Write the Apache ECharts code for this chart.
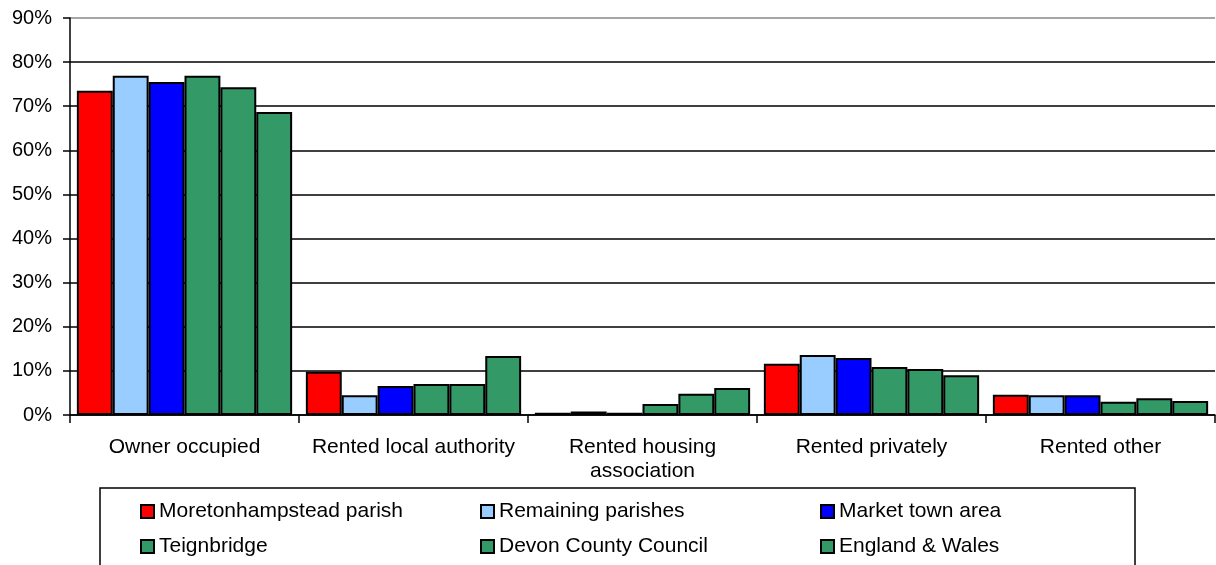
<!DOCTYPE html>
<html>
<head>
<meta charset="utf-8">
<script src="https://cdn.jsdelivr.net/npm/echarts@6/dist/echarts.min.js"></script>
<style>
  html, body { margin: 0; padding: 0; background: #fff; }
  #chart { width: 1216px; height: 565px; }
</style>
</head>
<body>
<div id="chart"></div>
<script>
// tenure categories
const categories = ['Owner occupied', 'Rented local authority', 'Rented housing\nassociation', 'Rented privately', 'Rented other'];

// percentages
const moretonhampstead = [73.5, 9.8, 0.5, 11.6, 4.6];
const remainingParishes = [76.9, 4.5, 0.8, 13.6, 4.5];
const marketTown = [75.5, 6.6, 0.5, 12.9, 4.5];
const teignbridge = [76.9, 7.0, 2.5, 10.9, 3.0];
const devon = [74.3, 7.0, 4.8, 10.4, 3.8];
const englandWales = [68.7, 13.4, 6.1, 9.0, 3.2];

const yTicks = [0, 10, 20, 30, 40, 50, 60, 70, 80, 90];

const seriesDefs = [
  ['Moretonhampstead parish', moretonhampstead, '#ff0000'],
  ['Remaining parishes', remainingParishes, '#99ccff'],
  ['Market town area', marketTown, '#0000ff'],
  ['Teignbridge', teignbridge, '#339966'],
  ['Devon County Council', devon, '#339966'],
  ['England & Wales', englandWales, '#339966'],
];

const font = 'Liberation Sans, Arial, sans-serif';

const chart = echarts.init(document.getElementById('chart'));
chart.setOption({
  animation: false,
  grid: { left: 70, right: 1, top: 18, bottom: 150 },
  xAxis: {
    type: 'category',
    data: categories,
    axisLine: { lineStyle: { color: '#000', width: 1.5 } },
    axisTick: { show: true, alignWithLabel: false, length: 8, lineStyle: { color: '#000', width: 1.5 } },
    axisLabel: { color: '#000', fontSize: 21, fontFamily: font, margin: 20, lineHeight: 24, interval: 0 },
  },
  yAxis: {
    type: 'value',
    min: yTicks[0],
    max: yTicks[yTicks.length - 1],
    interval: 10,
    axisLine: { show: true, lineStyle: { color: '#000', width: 1.5 } },
    axisTick: { show: true, length: 7, lineStyle: { color: '#000', width: 1.5 } },
    axisLabel: { color: '#000', fontSize: 20, fontFamily: font, margin: 18, formatter: v => v + '%' },
    splitLine: {
      show: true,
      lineStyle: { color: ['#000', '#000', '#000', '#000', '#000', '#000', '#000', '#000', '#000', '#888'], width: 1.5 },
    },
  },
  legend: {
    left: 135,
    top: 494,
    width: 1030,
    itemWidth: 13,
    itemHeight: 13,
    itemGap: 10,
    icon: 'rect',
    itemStyle: { borderColor: '#000', borderWidth: 2 },
    textStyle: { color: '#000', fontSize: 21, fontFamily: font, width: 311, lineHeight: 25 },
    data: seriesDefs.map(s => s[0]),
  },
  graphic: [{
    type: 'rect',
    shape: { x: 100, y: 488, width: 1035, height: 90 },
    style: { fill: 'none', stroke: '#000', lineWidth: 1.5 },
    silent: true,
  }],
  series: seriesDefs.map(([name, values, color]) => ({
    name,
    type: 'bar',
    data: values,
    barGap: '0%',
    barCategoryGap: '6%',
    itemStyle: { color, borderColor: '#000', borderWidth: 2 },
  })),
});
</script>
</body>
</html>
